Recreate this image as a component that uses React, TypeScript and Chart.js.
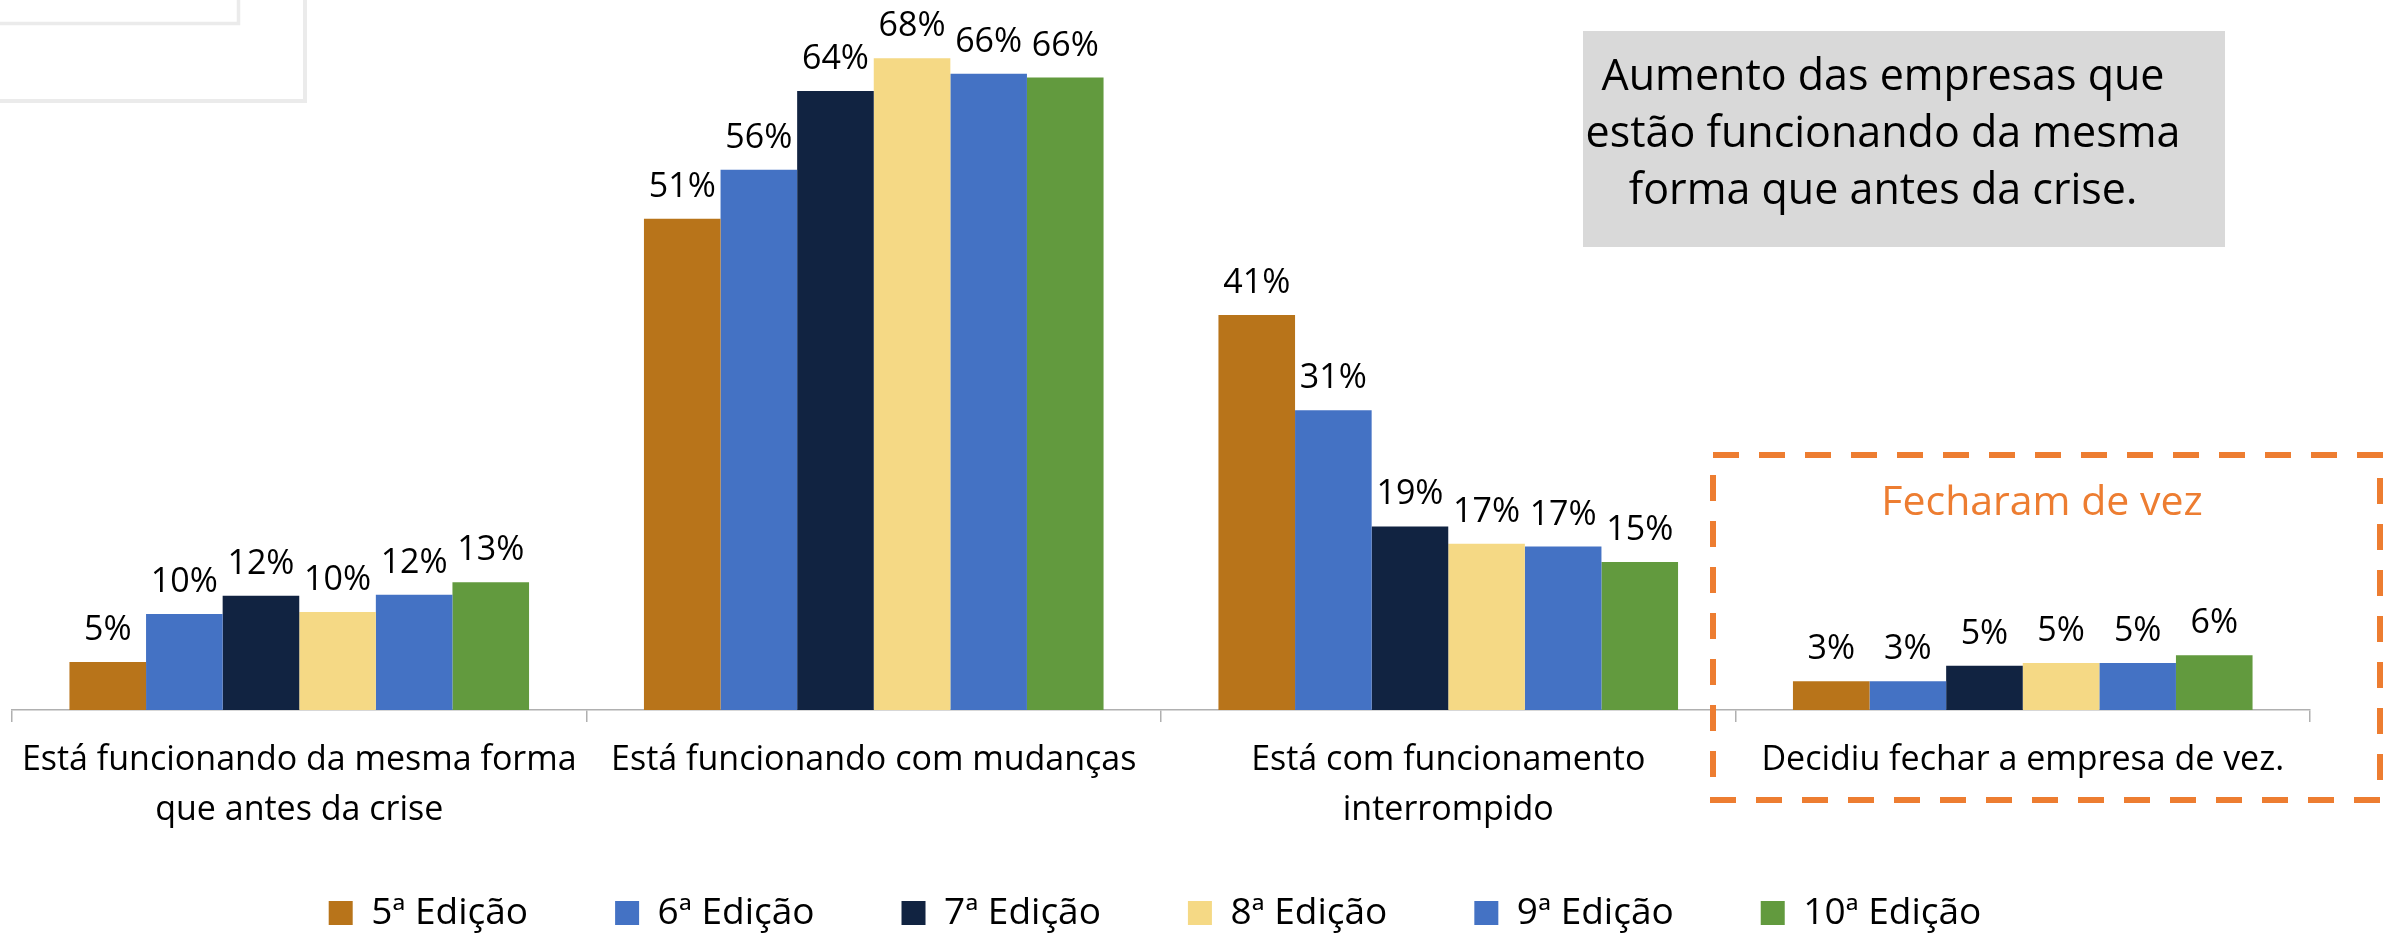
import React, { useEffect, useRef } from "react";
import { Chart, registerables } from "chart.js";

Chart.register(...registerables);

const FONT = '"Open Sans", sans-serif';

const categories: (string | string[])[] = [
  ["Está funcionando da mesma forma", "que antes da crise"],
  "Está funcionando com mudanças",
  ["Está com funcionamento", "interrompido"],
  "Decidiu fechar a empresa de vez.",
];

const seriesNames = ["5ª Edição", "6ª Edição", "7ª Edição", "8ª Edição", "9ª Edição", "10ª Edição"];

const ed5 = [5.0, 51.1, 41.1, 3.0];
const ed6 = [10.0, 56.2, 31.2, 3.0];
const ed7 = [11.9, 64.4, 19.1, 4.6];
const ed8 = [10.2, 67.8, 17.3, 4.9];
const ed9 = [12.0, 66.2, 17.0, 4.9];
const ed10 = [13.3, 65.8, 15.4, 5.7];

const seriesValues = [ed5, ed6, ed7, ed8, ed9, ed10];
const seriesColors = ["#B8741A", "#4472C4", "#112341", "#F5D985", "#4472C4", "#629A3E"];

const noteLines = ["Aumento das empresas que", "estão funcionando da mesma", "forma que antes da crise."];
const closedTitle = "Fecharam de vez";

const W = 2397;
const H = 934;
const LEGEND_FONT = 37;
const LEGEND_PAD = 87;
const LEGEND_BOX = 24;
const LEGEND_CENTER_Y = 913;
const LEGEND_SHIFT_X = -6;
const AXIS_Y = 710;
const X_AXIS_H = 130;

const itemHeight = Math.max(LEGEND_FONT, LEGEND_BOX);
const legendHeight = itemHeight + LEGEND_PAD + 10;
const PAD_BOTTOM = H - AXIS_Y - X_AXIS_H - legendHeight;

const overlayPlugin = {
  id: "overlay",
  afterLayout(chart: any) {
    const lg = chart.legend;
    if (!lg) return;
    const dy = LEGEND_CENTER_Y - (lg.top + LEGEND_PAD + itemHeight / 2);
    lg.top += dy;
    lg.bottom += dy;
    lg.left += LEGEND_SHIFT_X;
    lg.right += LEGEND_SHIFT_X;
  },
  beforeDraw(chart: any) {
    const ctx = chart.ctx;
    ctx.save();
    ctx.strokeStyle = "#EBEBEB";
    ctx.lineWidth = 3.5;
    ctx.beginPath();
    ctx.moveTo(0, 23.5);
    ctx.lineTo(238.5, 23.5);
    ctx.lineTo(238.5, 0);
    ctx.stroke();
    ctx.lineWidth = 4;
    ctx.beginPath();
    ctx.moveTo(0, 101);
    ctx.lineTo(305, 101);
    ctx.lineTo(305, 0);
    ctx.stroke();
    ctx.restore();
  },
  afterDatasetsDraw(chart: any) {
    const ctx = chart.ctx;
    ctx.save();
    ctx.font = `34px ${FONT}`;
    ctx.fillStyle = "#000000";
    ctx.textAlign = "center";
    ctx.textBaseline = "alphabetic";
    chart.data.datasets.forEach((ds: any, i: number) => {
      const meta = chart.getDatasetMeta(i);
      meta.data.forEach((el: any, j: number) => {
        const v = ds.data[j];
        ctx.fillText(`${Math.round(v)}%`, el.x, el.y - 22);
      });
    });
    ctx.restore();
  },
  afterDraw(chart: any) {
    const ctx = chart.ctx;
    ctx.save();
    // gray note box
    ctx.fillStyle = "#D9D9D9";
    ctx.fillRect(1583, 31, 2225 - 1583, 247 - 31);
    ctx.fillStyle = "#000000";
    ctx.font = `43px ${FONT}`;
    ctx.textAlign = "center";
    ctx.textBaseline = "alphabetic";
    noteLines.forEach((line, i) => {
      ctx.fillText(line, 1883, 90 + i * 57);
    });
    // orange dashed box
    ctx.strokeStyle = "#ED7D31";
    ctx.lineWidth = 6;
    ctx.setLineDash([26, 20]);
    ctx.strokeRect(1713, 455, 2380 - 1713, 800 - 455);
    ctx.setLineDash([]);
    ctx.fillStyle = "#ED7D31";
    ctx.font = `41px ${FONT}`;
    ctx.textBaseline = "middle";
    ctx.fillText(closedTitle, 2042, 503);
    ctx.restore();
  },
};

export default function App() {
  const ref = useRef<HTMLCanvasElement | null>(null);

  useEffect(() => {
    if (!ref.current) return;
    const chart = new Chart(ref.current, {
      type: "bar",
      data: {
        labels: categories,
        datasets: seriesNames.map((name, i) => ({
          label: name,
          data: seriesValues[i],
          backgroundColor: seriesColors[i],
          borderWidth: 0,
          categoryPercentage: 0.8,
          barPercentage: 1.0,
        })),
      },
      options: {
        responsive: false,
        animation: false,
        devicePixelRatio: 1,
        layout: { padding: { top: 18, left: 12, right: W - 2310, bottom: PAD_BOTTOM } },
        plugins: {
          legend: {
            position: "bottom",
            labels: {
              boxWidth: LEGEND_BOX,
              boxHeight: LEGEND_BOX,
              padding: LEGEND_PAD,
              color: "#000000",
              font: { family: FONT, size: LEGEND_FONT },
            },
          },
          tooltip: { enabled: false },
          title: { display: false },
        },
        scales: {
          x: {
            afterFit: (scale: any) => {
              scale.height = X_AXIS_H;
            },
            grid: {
              display: true,
              drawOnChartArea: false,
              drawTicks: true,
              tickLength: 12,
              color: "#B0B0B0",
              lineWidth: 1.5,
              offset: true,
            },
            border: { display: true, color: "#B0B0B0", width: 1.5 },
            ticks: {
              color: "#000000",
              font: { family: FONT, size: 34, lineHeight: 50 / 34 },
              padding: 13,
              maxRotation: 0,
              minRotation: 0,
              autoSkip: false,
            },
          },
          y: {
            display: false,
            min: 0,
            max: 72,
          },
        },
      },
      plugins: [overlayPlugin],
    });
    const fonts = (document as any).fonts;
    if (fonts && fonts.load) {
      Promise.all([
        fonts.load(`34px "Open Sans"`),
        fonts.load(`43px "Open Sans"`),
      ]).then(() => chart.update()).catch(() => {});
    }
    return () => {
      chart.destroy();
    };
  }, []);

  return (
    <div style={{ position: "fixed", left: 0, top: 0, width: W, height: H, background: "#FFFFFF" }}>
      <canvas ref={ref} width={W} height={H} style={{ display: "block", width: W, height: H }} />
    </div>
  );
}
